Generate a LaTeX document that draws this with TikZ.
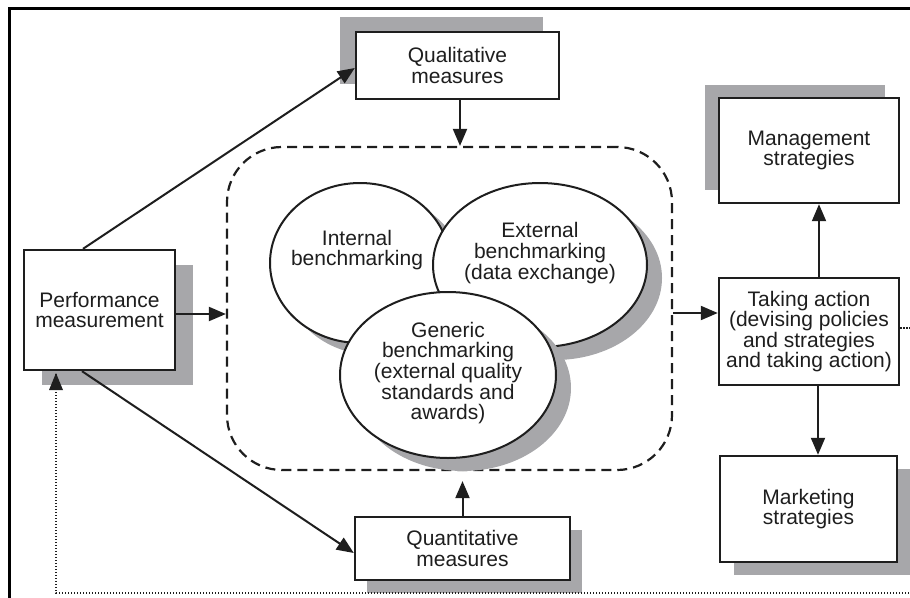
\documentclass[tikz,border=0pt]{standalone}
\usepackage{fontspec}
\setmainfont{Liberation Sans}
\usetikzlibrary{arrows.meta,shapes.geometric,shadows,calc}
\definecolor{shgray}{HTML}{A7A7AA}
\definecolor{ink}{HTML}{1E1E1E}
\begin{document}
\begin{tikzpicture}[x=1pt,y=-1pt,
  txt/.style={font=\fontsize{21}{20.6}\selectfont, align=center, text=ink},
  box/.style={draw=ink, line width=2.4pt, fill=white, inner sep=0pt, txt},
  oval/.style={ellipse, draw=ink, line width=2pt, fill=white, inner sep=0pt},
  arr/.style={draw=ink, line width=2pt, -{Triangle[length=17pt,width=14pt]}},
  fb/.style={draw=ink, line width=1.3pt, dash pattern=on 1.3pt off 1.7pt}
]
\useasboundingbox (0,0) rectangle (910,597);
\clip (0,0) rectangle (910,597);
% outer frame
\draw[line width=3pt, black] (9,610) -- (9,8) -- (920,8);

% dashed container
\node[draw=ink, line width=2.2pt, dash pattern=on 10pt off 6pt, rounded corners=55pt,
      minimum width=445pt, minimum height=323pt, inner sep=0pt] (dash) at (449.5,308.5) {};

% ellipses
\node[oval, general shadow={fill=shgray, shadow xshift=14pt, shadow yshift=-12pt},
      minimum width=180pt, minimum height=160pt] (inte) at (360,263) {};
\node[oval, general shadow={fill=shgray, shadow xshift=15pt, shadow yshift=-13pt},
      minimum width=214pt, minimum height=164pt] (exte) at (540,265) {};
\node[oval, general shadow={fill=shgray, shadow xshift=15pt, shadow yshift=-13pt},
      minimum width=216pt, minimum height=166pt] (gene) at (448,375) {};
\node[txt] (intet) at (357,250) {Internal\\benchmarking};
\node[txt] (extet) at (540,253) {External\\benchmarking\\(data exchange)};
\node[txt] (genet) at (448,373) {Generic\\benchmarking\\(external quality\\standards and\\awards)};

% boxes
\node[box, general shadow={fill=shgray, shadow xshift=-16pt, shadow yshift=15pt},
      minimum width=203pt, minimum height=67pt] (qual) at (457.5,65.5) {Qualitative\\measures};
\node[box, general shadow={fill=shgray, shadow xshift=12pt, shadow yshift=-13pt},
      minimum width=215pt, minimum height=63pt] (quant) at (462.5,548.5) {Quantitative\\measures};
\node[box, general shadow={fill=shgray, shadow xshift=18pt, shadow yshift=-15pt},
      minimum width=151pt, minimum height=120pt] (perf) at (99.5,310) {Performance\\measurement};
\node[box, general shadow={fill=shgray, shadow xshift=-14pt, shadow yshift=13pt},
      minimum width=180pt, minimum height=105pt] (mgmt) at (809,150.5) {Management\\strategies};
\node[box, minimum width=180pt, minimum height=107pt] (take) at (809,331.5)
      {Taking action\\(devising policies\\and strategies\\and taking action)};
\node[box, general shadow={fill=shgray, shadow xshift=14pt, shadow yshift=-13pt},
      minimum width=177pt, minimum height=106pt] (mkt) at (808.5,509) {Marketing\\strategies};

% connectors
\draw[arr] ([xshift=-16.5pt]perf.north) -- ([yshift=-2.5pt]qual.west);
\draw[arr] ([xshift=-17.5pt]perf.south) -- ([yshift=-4.5pt]quant.west);
\draw[arr] ([yshift=-4pt]perf.east) -- ([yshift=-4pt]perf.east -| dash.west);
\draw[arr] ([xshift=2.5pt]qual.south) -- ([xshift=2.5pt]qual.south |- dash.north);
\draw[arr] (quant.north) -- ([yshift=-10pt]quant.north |- dash.south);
\draw[arr] ([yshift=18.5pt]take.west -| dash.east) -- ([yshift=18.5pt]take.west);
\draw[arr] ([xshift=10pt]take.north) -- ([xshift=10pt]take.north |- mgmt.south);
\draw[arr] ([xshift=9pt]take.south) -- ([xshift=9pt]take.south |- mkt.north);

% feedback loop
\coordinate (fbR) at (922,593);
\coordinate (fbL) at (56,593);
\draw[fb] ([yshift=3.5pt]take.east) -- ([yshift=3.5pt]take.east -| fbR) -- (fbR) -- (fbL)
   -- ([yshift=-3pt]fbL |- perf.south);
\fill[ink] (56,373) -- (49,390) -- (63,390) -- cycle;
\end{tikzpicture}
\end{document}
